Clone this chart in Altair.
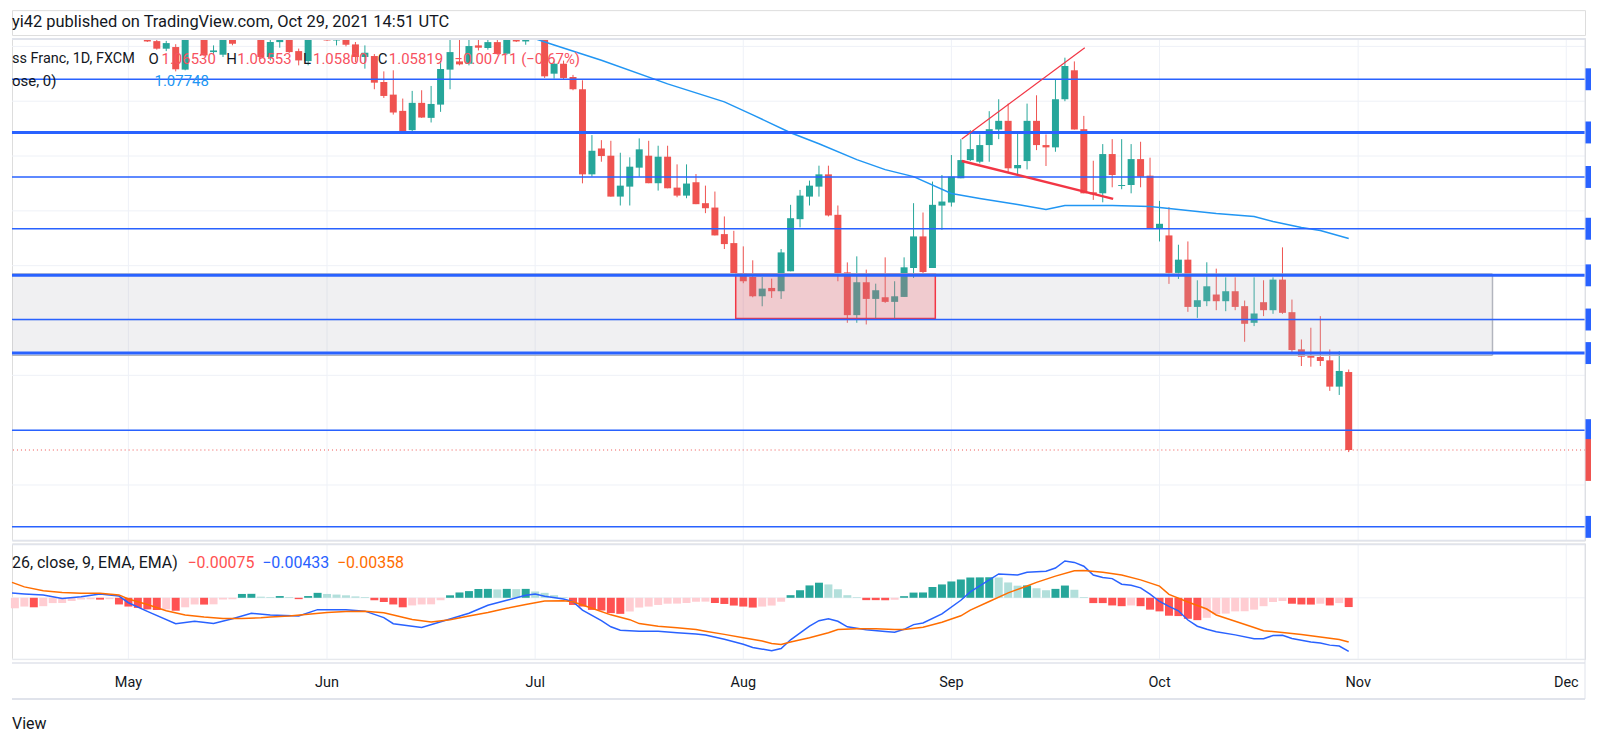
import altair as alt
import pandas as pd

# ---------------- text ----------------
header_text = "yi42 published on TradingView.com, Oct 29, 2021 14:51 UTC"
symbol_text = "ss Franc, 1D, FXCM"
ohlc_labels = ["O", "H", "L", "C"]
ohlc_values = ["1.06530", "1.06553", "1.05800", "1.05819"]
change_text = "\u22120.00711 (\u22120.67%)"
ma_legend = "ose, 0)"
ma_value_text = "1.07748"
macd_legend = "26, close, 9, EMA, EMA)"
macd_values_text = ["\u22120.00075", "\u22120.00433", "\u22120.00358"]
footer_text = "View"

month_ticks = [0, 21, 43, 65, 87, 109, 130, 152]
month_labels = ["May", "Jun", "Jul", "Aug", "Sep", "Oct", "Nov", "Dec"]
price_grid = [1.055, 1.060, 1.065, 1.070, 1.075, 1.080, 1.085, 1.090, 1.095]

# ---------------- candles (bar 0 = May 3) ----------------
bar = list(range(2, 130))
opens = [1.0962, 1.09548, 1.09479, 1.09494, 1.09288, 1.0962, 1.0963, 1.09448, 1.09424, 1.0961,
         1.0975, 1.0985, 1.0970, 1.09403, 1.09539, 1.0962, 1.09457, 1.09366, 1.0959, 1.0963,
         1.09554, 1.0962, 1.09518, 1.09403, 1.09412, 1.09175, 1.09060, 1.08912, 1.08736, 1.08985,
         1.08848, 1.08969, 1.09288, 1.09363, 1.09342, 1.09509, 1.09485, 1.09539, 1.09433, 1.0962,
         1.09545, 1.0960, 1.0966, 1.09251, 1.09342, 1.09221, 1.09109, 1.08333, 1.08569, 1.08503,
         1.08130, 1.08221, 1.08394, 1.08503, 1.08252, 1.08494, 1.08212, 1.08139, 1.08261, 1.08070,
         1.08030, 1.07788, 1.07706, 1.07433, 1.07397, 1.07221, 1.07297, 1.07267, 1.07449, 1.07924,
         1.08130, 1.08221, 1.08333, 1.07964, 1.07439, 1.07049, 1.07349, 1.07197, 1.07212, 1.07170,
         1.07215, 1.07479, 1.07767, 1.07479, 1.08048, 1.08076, 1.08297, 1.08463, 1.08448, 1.08600,
         1.08742, 1.08821, 1.08388, 1.08454, 1.08821, 1.08600, 1.08579, 1.09018, 1.09282, 1.08745,
         1.08169, 1.08160, 1.08518, 1.08227, 1.08236, 1.08472, 1.08321, 1.07842, 1.07776, 1.07434,
         1.07555, 1.07124, 1.07176, 1.07237, 1.07176, 1.07267, 1.07131, 1.06979, 1.07167, 1.07094,
         1.07373, 1.07076, 1.06737, 1.06676, 1.06667, 1.06637, 1.06397, 1.06530]
highs = [1.0966, 1.0958, 1.0955, 1.0952, 1.0966, 1.0966, 1.0966, 1.09509, 1.0964, 1.0964,
         1.0992, 1.0990, 1.0975, 1.0956, 1.0966, 1.0966, 1.0948, 1.0959, 1.0966, 1.0966,
         1.0965, 1.0965, 1.0954, 1.09509, 1.0943, 1.09272, 1.09282, 1.09024, 1.09094, 1.09100,
         1.09139, 1.09369, 1.09569, 1.09563, 1.0960, 1.0960, 1.0960, 1.0960, 1.0965, 1.0965,
         1.0964, 1.0970, 1.0970, 1.0937, 1.0937, 1.0924, 1.09191, 1.08691, 1.08645, 1.08639,
         1.08530, 1.08488, 1.08661, 1.08639, 1.08594, 1.08594, 1.08424, 1.08424, 1.08336, 1.08230,
         1.08176, 1.07949, 1.07818, 1.07676, 1.07549, 1.07397, 1.07382, 1.07652, 1.08055, 1.08191,
         1.08276, 1.08412, 1.08412, 1.08049, 1.07530, 1.07585, 1.07464, 1.07336, 1.07576, 1.07358,
         1.07576, 1.08070, 1.07985, 1.08267, 1.08327, 1.08509, 1.08654, 1.08736, 1.08697, 1.08909,
         1.09018, 1.08978, 1.08706, 1.08978, 1.09054, 1.08697, 1.09197, 1.09397, 1.09363, 1.08866,
         1.08457, 1.08609, 1.08654, 1.08654, 1.08609, 1.08630, 1.08485, 1.08091, 1.08034, 1.07691,
         1.07721, 1.07367, 1.07531, 1.07473, 1.07394, 1.07394, 1.07182, 1.07394, 1.07367, 1.07394,
         1.07667, 1.07191, 1.06827, 1.06934, 1.07040, 1.06736, 1.06721, 1.06553]
lows = [1.0954, 1.0947, 1.09457, 1.09272, 1.09282, 1.0956, 1.0941, 1.09424, 1.09403, 1.0951,
        1.0968, 1.0966, 1.0939, 1.09372, 1.09488, 1.0944, 1.09327, 1.09327, 1.0956, 1.0955,
        1.09509, 1.0950, 1.09357, 1.09297, 1.09109, 1.09030, 1.08878, 1.08715, 1.08721, 1.08848,
        1.08806, 1.08903, 1.09109, 1.09327, 1.09327, 1.09463, 1.09470, 1.09424, 1.0942, 1.0954,
        1.09515, 1.0957, 1.09212, 1.09206, 1.0920, 1.0910, 1.08251, 1.08312, 1.08448, 1.08130,
        1.08049, 1.08049, 1.08312, 1.08252, 1.08185, 1.08206, 1.08124, 1.08115, 1.08061, 1.07979,
        1.07776, 1.07652, 1.07433, 1.07340, 1.07212, 1.07130, 1.07206, 1.07197, 1.07449, 1.07849,
        1.08049, 1.08130, 1.07949, 1.07358, 1.06979, 1.06979, 1.06964, 1.07018, 1.07161, 1.07018,
        1.07215, 1.07388, 1.07433, 1.07479, 1.07827, 1.08039, 1.08297, 1.08454, 1.08433, 1.08448,
        1.08654, 1.08351, 1.08336, 1.08378, 1.08554, 1.08409, 1.08539, 1.09000, 1.08742, 1.08160,
        1.08100, 1.08078, 1.08215, 1.08197, 1.08160, 1.08215, 1.07842, 1.07721, 1.07334, 1.07379,
        1.07079, 1.07024, 1.07131, 1.07094, 1.07085, 1.07094, 1.06806, 1.06949, 1.07040, 1.07061,
        1.07061, 1.06712, 1.06585, 1.06579, 1.06585, 1.06358, 1.06321, 1.05800]
closes = [1.09545, 1.09479, 1.09530, 1.09291, 1.0962, 1.09569, 1.09418, 1.09463, 1.0961, 1.09524,
          1.0985, 1.0972, 1.09403, 1.09539, 1.0962, 1.09448, 1.09372, 1.09569, 1.0963, 1.09554,
          1.0962, 1.09515, 1.09403, 1.09442, 1.09169, 1.09048, 1.08897, 1.08721, 1.08985, 1.08851,
          1.08975, 1.09294, 1.09448, 1.09336, 1.09503, 1.09488, 1.09539, 1.09430, 1.0962, 1.09545,
          1.0961, 1.0966, 1.09227, 1.09342, 1.09212, 1.09109, 1.08333, 1.08548, 1.08500, 1.08130,
          1.08230, 1.08403, 1.08561, 1.08252, 1.08494, 1.08206, 1.08139, 1.08249, 1.08061, 1.08024,
          1.07776, 1.07697, 1.07433, 1.07358, 1.07221, 1.07291, 1.07267, 1.07621, 1.07933, 1.08139,
          1.08230, 1.08333, 1.07958, 1.07433, 1.07049, 1.07349, 1.07197, 1.07276, 1.07170, 1.07221,
          1.07485, 1.07767, 1.07442, 1.08055, 1.08085, 1.08312, 1.08463, 1.08563, 1.08600, 1.08745,
          1.08821, 1.08388, 1.08418, 1.08821, 1.08600, 1.08579, 1.09018, 1.09321, 1.08742, 1.08160,
          1.08151, 1.08518, 1.08327, 1.08236, 1.08472, 1.08312, 1.07842, 1.07882, 1.07434, 1.07555,
          1.07124, 1.07185, 1.07312, 1.07176, 1.07267, 1.07124, 1.06970, 1.07064, 1.07094, 1.07373,
          1.07070, 1.06731, 1.06670, 1.06661, 1.06631, 1.06397, 1.06540, 1.05819]

# moving average line
ma_bar = [43, 45, 50, 57, 63, 66, 70, 73, 77, 80, 83, 87, 90, 94, 97, 99, 104, 108, 111, 115,
          119, 121, 124, 126, 129]
ma_val = [1.09570, 1.09512, 1.09373, 1.09158, 1.08994, 1.08876, 1.08712, 1.08612, 1.08467, 1.08376,
          1.08312, 1.08158, 1.08112, 1.08058, 1.08012, 1.08049, 1.08049, 1.0804, 1.08012, 1.07976,
          1.07949, 1.07903, 1.07849, 1.07821, 1.07748]

# drawings
levels_major = [1.08715, 1.07412, 1.06703]
levels_minor = [1.09200, 1.08309, 1.07837, 1.07009, 1.06000, 1.05118]
last_close = 1.05819
gray_zone = [-20, 144.2, 1.07424, 1.06682]      # bar from, bar to, price top, price bottom
red_zone = [64.2, 85.3, 1.07424, 1.07018]
rising_line = [88.1, 1.08655, 101.1, 1.09488]   # bar, price, bar, price
falling_line = [88.1, 1.08455, 104.1, 1.08109]

# ---------------- MACD ----------------
macd_bar = [-13, -11, -9, -7, -5, -3, -1, 0, 2, 5, 7, 9, 11, 13, 15, 18, 20, 23, 25, 27,
            28, 31, 34, 36, 38, 40, 42, 43, 44, 46, 47, 48, 50, 51, 52, 54, 56, 58, 60, 61,
            63, 65, 66, 68, 69, 70, 72, 73, 74, 75, 76, 78, 80, 81, 82, 83, 84, 86, 88, 89,
            91, 92, 94, 95, 97, 98, 99, 100, 101, 102, 103, 104, 105, 106, 107, 108, 109, 110, 111, 112,
            113, 114, 115, 117, 119, 120, 121, 122, 123, 125, 126, 127, 128, 129]
macd_val = [0.00038, 0.00031, 0.00023, -0.00006, 0.00009, 0.00031, 0.00014, -0.00040, -0.00110, -0.00210,
            -0.00190, -0.00207, -0.00170, -0.00125, -0.00139, -0.00147, -0.00096, -0.00096, -0.00108, -0.00160,
            -0.00210, -0.00240, -0.00172, -0.00125, -0.00060, -0.00020, 0.00020, 0.00030, 0.00012, -0.00010,
            -0.00032, -0.00100, -0.00185, -0.00235, -0.00262, -0.00270, -0.00270, -0.00283, -0.00293, -0.00302,
            -0.00335, -0.00376, -0.00402, -0.00429, -0.00410, -0.00340, -0.00230, -0.00185, -0.00169, -0.00190,
            -0.00235, -0.00258, -0.00272, -0.00278, -0.00255, -0.00217, -0.00204, -0.00130, -0.00020, 0.00048,
            0.00145, 0.00193, 0.00185, 0.00206, 0.00215, 0.00241, 0.00298, 0.00286, 0.00255, 0.00184,
            0.00164, 0.00155, 0.00110, 0.00102, 0.00080, 0.00030, -0.00030, -0.00070, -0.00105, -0.00180,
            -0.00230, -0.00255, -0.00275, -0.00300, -0.00332, -0.00332, -0.00305, -0.00303, -0.00330, -0.00357,
            -0.00365, -0.00383, -0.00390, -0.00433]
signal_bar = [-13, -11, -9, -7, -5, -3, -1, 0, 2, 4, 6, 8, 10, 12, 14, 15, 17, 19, 21, 23,
              25, 27, 28, 30, 32, 34, 36, 38, 40, 42, 44, 46, 47, 49, 51, 53, 54, 56, 58, 60,
              61, 63, 65, 67, 68, 69, 70, 72, 74, 75, 77, 79, 81, 82, 84, 86, 88, 89, 91, 93,
              95, 96, 98, 100, 101, 103, 105, 107, 109, 110, 112, 114, 115, 117, 119, 120, 122, 124, 126, 128,
              129]
signal_val = [0.00125, 0.00088, 0.00057, 0.00043, 0.00037, 0.00037, 0.00023, -0.00010, -0.00055, -0.00105,
              -0.00139, -0.00156, -0.00167, -0.00167, -0.00162, -0.00156, -0.00147, -0.00133, -0.00119, -0.00111,
              -0.00108, -0.00122, -0.00140, -0.00176, -0.00196, -0.00178, -0.00147, -0.00119, -0.00085, -0.00054,
              -0.00026, -0.00024, -0.00032, -0.00085, -0.00138, -0.00177, -0.00209, -0.00230, -0.00243, -0.00257,
              -0.00270, -0.00296, -0.00323, -0.00349, -0.00370, -0.00378, -0.00357, -0.00323, -0.00283, -0.00257,
              -0.00251, -0.00251, -0.00257, -0.00257, -0.00238, -0.00198, -0.00146, -0.00100, -0.00030, 0.00040,
              0.00095, 0.00125, 0.00175, 0.00218, 0.00221, 0.00207, 0.00184, 0.00145, 0.00094, 0.00028,
              -0.00034, -0.00091, -0.00139, -0.00190, -0.00241, -0.00266, -0.00281, -0.00298, -0.00317, -0.00337,
              -0.00358]
hist_bar = list(range(-12, 130))
hist_val = [-0.00085, -0.00071, -0.00077, -0.00068, -0.00043, -0.00042, -0.00026, -0.00014, -0.00012, -0.00015,
            -0.00011, -0.00054, -0.00071, -0.00082, -0.00094, -0.00099, -0.00094, -0.00105, -0.00077, -0.00054,
            -0.00055, -0.00053, -0.00014, -0.00012, 0.00031, 0.00032, 0.00009, 0.00006, 0.00014, 0.00006,
            -0.00011, 0.00014, 0.00040, 0.00031, 0.00026, 0.00020, 0.00011, 0.00006, -0.00020, -0.00034,
            -0.00054, -0.00077, -0.00062, -0.00054, -0.00053, -0.00020, 0.00020, 0.00043, 0.00054, 0.00071,
            0.00072, 0.00068, 0.00072, 0.00070, 0.00072, 0.00051, 0.00040, 0.00021, 0.00005, -0.00058,
            -0.00071, -0.00098, -0.00103, -0.00124, -0.00130, -0.00111, -0.00079, -0.00071, -0.00058, -0.00048,
            -0.00047, -0.00042, -0.00032, -0.00031, -0.00042, -0.00050, -0.00063, -0.00071, -0.00079, -0.00071,
            -0.00063, -0.00032, 0.00021, 0.00061, 0.00100, 0.00122, 0.00108, 0.00069, 0.00021, 0.00005,
            -0.00019, -0.00019, -0.00020, -0.00016, 0.00013, 0.00042, 0.00043, 0.00087, 0.00108, 0.00132,
            0.00148, 0.00164, 0.00165, 0.00166, 0.00164, 0.00124, 0.00098, 0.00100, 0.00077, 0.00061,
            0.00072, 0.00099, 0.00065, 0.00006, -0.00043, -0.00043, -0.00062, -0.00068, -0.00062, -0.00068,
            -0.00096, -0.00110, -0.00145, -0.00148, -0.00170, -0.00181, -0.00162, -0.00133, -0.00128, -0.00110,
            -0.00109, -0.00096, -0.00068, -0.00034, -0.00026, -0.00048, -0.00054, -0.00055, -0.00048, -0.00062,
            -0.00043, -0.00075]
# T = rising above zero, t = falling above zero, R = falling below zero, p = rising below zero
hist_kind = list("ppRppppppR" "pRRRRRpRpp" "RpppTTttTt" "RTTtttttRR" "RRppppTTTT"
                 "TtTtTttttR" "RRRRRppppp" "ppppRRRRRp" "ppTTTTtttt" "RRRpTTTTTT"
                 "TTTTtttTtt" "TTttRRRRpR" "RRRRRRpppp" "pppppRRRpR" "pR")

# ---------------- styling constants ----------------
FONT = "Roboto"
DARK = "#131722"
GRID = "#EEF1F7"
BORDER = "#E0E3EB"
UP = "#26A69A"
DOWN = "#EF5350"
LINEBLUE = "#2962FF"
HIST_COLORS = {"T": "#26A69A", "t": "#B2DFDB", "R": "#FF5252", "p": "#FFCDD2"}
W = 1578
PH = 504
MH = 116
X0 = -11.78
PX_PER_BAR = 9.55

xs = alt.Scale(domain=[X0, X0 + W / PX_PER_BAR], nice=False, zero=False, clamp=True)
ys = alt.Scale(domain=[1.04994, 1.09576], nice=False, zero=False, clamp=True)
ms = alt.Scale(domain=[-0.00496, 0.004395], nice=False, zero=False, clamp=True)


def one():
    return pd.DataFrame({"k": [0]})


def txt(s, x, y, color=DARK, size=15, align="left"):
    return alt.Chart(pd.DataFrame({"t": [s]})).mark_text(
        align=align, baseline="middle", font=FONT, fontSize=size, color=color
    ).encode(text="t:N", x=alt.value(x), y=alt.value(y))


vgrid_df = pd.DataFrame({"bar": month_ticks})


def vgrid():
    return alt.Chart(vgrid_df).mark_rule(color=GRID, strokeWidth=1).encode(
        x=alt.X("bar:Q", scale=xs, axis=None))


# ---------------- price panel ----------------
cdf = pd.DataFrame({"bar": bar, "open": opens, "high": highs, "low": lows, "close": closes})
cdf["dir"] = ["up" if c >= o else "down" for o, c in zip(opens, closes)]
ccol = alt.Color("dir:N", scale=alt.Scale(domain=["up", "down"], range=[UP, DOWN]), legend=None)

hgrid = alt.Chart(pd.DataFrame({"p": price_grid})).mark_rule(color=GRID, strokeWidth=1).encode(
    y=alt.Y("p:Q", scale=ys, axis=None))
wicks = alt.Chart(cdf).mark_rule(strokeWidth=1).encode(
    x=alt.X("bar:Q", scale=xs, axis=None),
    y=alt.Y("low:Q", scale=ys, axis=None),
    y2="high:Q",
    color=ccol,
)
bodies = alt.Chart(cdf).mark_bar(width=7).encode(
    x=alt.X("bar:Q", scale=xs, axis=None),
    y=alt.Y("open:Q", scale=ys, axis=None),
    y2="close:Q",
    color=ccol,
)
ma_line = alt.Chart(pd.DataFrame({"bar": ma_bar, "v": ma_val})).mark_line(
    color="#2196F3", strokeWidth=1.5
).encode(x=alt.X("bar:Q", scale=xs, axis=None), y=alt.Y("v:Q", scale=ys, axis=None))

gdf = pd.DataFrame({"a": [gray_zone[0]], "b": [gray_zone[1]], "top": [gray_zone[2]], "bot": [gray_zone[3]]})
gray_fill = alt.Chart(gdf).mark_rect(fill="#B2B5BE", fillOpacity=0.2).encode(
    x=alt.X("a:Q", scale=xs, axis=None), x2="b:Q",
    y=alt.Y("top:Q", scale=ys, axis=None), y2="bot:Q")
gray_edge_h = alt.Chart(pd.DataFrame({"a": [gray_zone[0]] * 2, "b": [gray_zone[1]] * 2,
                                      "p": [gray_zone[2], gray_zone[3]]})).mark_rule(
    color="#B2B5BE", strokeWidth=1.5).encode(
    x=alt.X("a:Q", scale=xs, axis=None), x2="b:Q", y=alt.Y("p:Q", scale=ys, axis=None))
gray_edge_v = alt.Chart(gdf).mark_rule(color="#B2B5BE", strokeWidth=1.5).encode(
    x=alt.X("b:Q", scale=xs, axis=None), y=alt.Y("top:Q", scale=ys, axis=None), y2="bot:Q")

rdf = pd.DataFrame({"a": [red_zone[0]], "b": [red_zone[1]], "top": [red_zone[2]], "bot": [red_zone[3]]})
red_box = alt.Chart(rdf).mark_rect(fill="#F23645", fillOpacity=0.2, stroke="#F23645", strokeWidth=1.5).encode(
    x=alt.X("a:Q", scale=xs, axis=None), x2="b:Q",
    y=alt.Y("top:Q", scale=ys, axis=None), y2="bot:Q")

major = alt.Chart(pd.DataFrame({"p": levels_major})).mark_rule(color=LINEBLUE, strokeWidth=3).encode(
    y=alt.Y("p:Q", scale=ys, axis=None))
minor = alt.Chart(pd.DataFrame({"p": levels_minor})).mark_rule(color=LINEBLUE, strokeWidth=1.5).encode(
    y=alt.Y("p:Q", scale=ys, axis=None))
last_line = alt.Chart(pd.DataFrame({"p": [last_close]})).mark_rule(
    color=DOWN, strokeWidth=1, strokeDash=[1, 3]).encode(y=alt.Y("p:Q", scale=ys, axis=None))


def segment(seg, width):
    d = pd.DataFrame({"a": [seg[0]], "pa": [seg[1]], "b": [seg[2]], "pb": [seg[3]]})
    return alt.Chart(d).mark_rule(color="#F23645", strokeWidth=width).encode(
        x=alt.X("a:Q", scale=xs, axis=None), x2="b:Q",
        y=alt.Y("pa:Q", scale=ys, axis=None), y2="pb:Q")


rise = segment(rising_line, 1.2)
fall = segment(falling_line, 2.5)

# price-scale label tabs at the right edge (rectangles, so they do not widen the chart)
tabs = alt.Chart(pd.DataFrame({"p": levels_major + levels_minor})).mark_rect(
    color=LINEBLUE, yOffset=-11, y2Offset=11).encode(
    x=alt.value(W), x2=alt.value(W + 6), y=alt.Y("p:Q", scale=ys, axis=None), y2="p:Q")
last_tab = alt.Chart(pd.DataFrame({"p": [last_close]})).mark_rect(
    color=DOWN, yOffset=-11, y2Offset=31).encode(
    x=alt.value(W), x2=alt.value(W + 6), y=alt.Y("p:Q", scale=ys, axis=None), y2="p:Q")

top_rule = alt.Chart(one()).mark_rule(color=BORDER, strokeWidth=2).encode(y=alt.value(1))
bot_rule = alt.Chart(one()).mark_rule(color=BORDER, strokeWidth=1.5).encode(y=alt.value(PH))
right_rule = alt.Chart(one()).mark_rule(color=BORDER, strokeWidth=1).encode(x=alt.value(W))

RED_TXT = "#F7525F"
legend_row1 = [
    txt(symbol_text, 0, 21, size=14.5),
    txt(ohlc_labels[0], 137, 21), txt(ohlc_values[0], 150, 21, RED_TXT),
    txt(ohlc_labels[1], 215, 21), txt(ohlc_values[1], 226, 21, RED_TXT),
    txt(ohlc_labels[2], 292, 21), txt(ohlc_values[2], 302, 21, RED_TXT),
    txt(ohlc_labels[3], 367, 21), txt(ohlc_values[3], 378, 21, RED_TXT),
    txt(change_text, 444, 21, RED_TXT),
]
legend_row2 = [txt(ma_legend, 0, 43), txt(ma_value_text, 143, 43, "#2196F3")]

price = alt.layer(
    hgrid, vgrid(), wicks, bodies, ma_line, gray_fill, red_box, gray_edge_h, gray_edge_v,
    major, minor, last_line, rise, fall,
    *legend_row1, *legend_row2, tabs, last_tab, top_rule, bot_rule, right_rule
).properties(width=W, height=PH)

# ---------------- MACD panel ----------------
hdf = pd.DataFrame({"bar": hist_bar, "v": hist_val})
hdf["col"] = [HIST_COLORS[k] for k in hist_kind]
zero_line = alt.Chart(pd.DataFrame({"v": [0.0]})).mark_rule(color=GRID, strokeWidth=1).encode(
    y=alt.Y("v:Q", scale=ms, axis=None))
hist = alt.Chart(hdf).mark_bar(width=8).encode(
    x=alt.X("bar:Q", scale=xs, axis=None),
    y=alt.Y("v:Q", scale=ms, axis=None),
    y2=alt.datum(0),
    color=alt.Color("col:N", scale=None, legend=None),
)
macd_line = alt.Chart(pd.DataFrame({"bar": macd_bar, "v": macd_val})).mark_line(
    color="#2962FF", strokeWidth=1.5).encode(
    x=alt.X("bar:Q", scale=xs, axis=None), y=alt.Y("v:Q", scale=ms, axis=None))
signal_line = alt.Chart(pd.DataFrame({"bar": signal_bar, "v": signal_val})).mark_line(
    color="#FF6D00", strokeWidth=1.5).encode(
    x=alt.X("bar:Q", scale=xs, axis=None), y=alt.Y("v:Q", scale=ms, axis=None))

macd_legend_layers = [
    txt(macd_legend, 0, 20, size=16),
    txt(macd_values_text[0], 176, 20, "#FF5252", 16),
    txt(macd_values_text[1], 251, 20, "#2962FF", 16),
    txt(macd_values_text[2], 326, 20, "#FF6D00", 16),
]
month_text = alt.Chart(pd.DataFrame({"bar": month_ticks, "name": month_labels})).mark_text(
    align="center", baseline="middle", font=FONT, fontSize=14.5, color=DARK).encode(
    x=alt.X("bar:Q", scale=xs, axis=None), y=alt.value(MH + 24), text="name:N")
m_top = alt.Chart(one()).mark_rule(color=BORDER, strokeWidth=1.5).encode(y=alt.value(1))
m_grid_bot = alt.Chart(one()).mark_rule(color=GRID, strokeWidth=1).encode(y=alt.value(MH))
m_bot = alt.Chart(one()).mark_rule(color=BORDER, strokeWidth=1.5).encode(y=alt.value(MH + 4))
m_sep = alt.Chart(one()).mark_rule(color=BORDER, strokeWidth=2).encode(y=alt.value(MH + 40))
m_right = alt.Chart(one()).mark_rule(color=BORDER, strokeWidth=1).encode(
    x=alt.value(W), y=alt.value(0), y2=alt.value(MH + 40))
footer = txt(footer_text, 0, 181, DARK, 16)

macd = alt.layer(
    zero_line, vgrid(), hist, macd_line, signal_line, *macd_legend_layers, month_text,
    m_top, m_grid_bot, m_bot, m_sep, m_right, footer
).properties(width=W, height=MH)

header = txt(header_text, 0, 12, DARK, 16.5).properties(width=W, height=25)

chart = alt.vconcat(header, price, macd, spacing=3, bounds="flush").properties(
    padding={"left": 0, "top": 0, "right": 0, "bottom": 0}
).configure_view(stroke=None).configure(background="white")

chart.save("out.html", embed_options={"renderer": "svg", "actions": False})
